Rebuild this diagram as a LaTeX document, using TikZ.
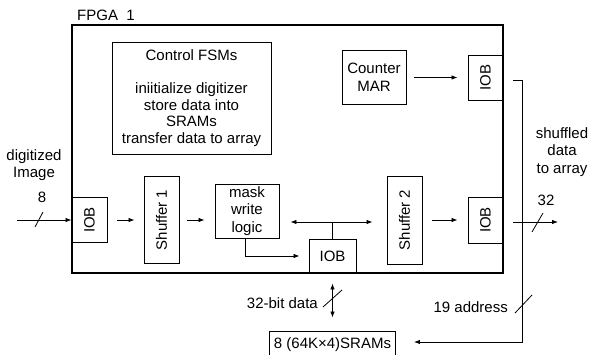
\documentclass[tikz,border=0pt]{standalone}
\usepackage{fontspec}
\setmainfont{Liberation Sans}
\usetikzlibrary{arrows.meta,calc}
\begin{document}
\begin{tikzpicture}[x=1pt,y=-1pt,
  every node/.style={font=\fontsize{15}{17.5}\selectfont, inner sep=0pt, align=center},
  box/.style={draw, line width=0.9pt},
  arr/.style={line width=0.8pt, -{Latex[length=6pt,width=4.5pt]}},
  arrb/.style={line width=0.8pt, {Latex[length=6pt,width=4.5pt]}-{Latex[length=6pt,width=4.5pt]}},
  ln/.style={line width=0.8pt},
  slash/.style={line width=0.8pt}]
\useasboundingbox (0,0) rectangle (591,355);

% FPGA frame
\node[draw, line width=1.3pt, minimum width=431, minimum height=248] (fpga) at (287.5,149) {};
\node[anchor=base west] (fpgalbl) at (77,20.5) {FPGA\ \ 1};

% blocks
\node[box, minimum width=159, minimum height=112, font=\fontsize{15}{16.5}\selectfont] (ctrl) at (191.5,98)
  {Control FSMs\\[16.5pt]iniitialize digitizer\\store data into\\SRAMs\\transfer data to array};
\node[box, minimum width=64, minimum height=54] (cnt) at (374,77.5) {Counter\\MAR};
\node[box, minimum width=35, minimum height=45] (iobA) at (485.5,77.5) {};
\node[rotate=90] (iobAt) at (iobA) {IOB};

\node[box, minimum width=35, minimum height=45] (iobB) at (89.5,220) {};
\node[rotate=90] (iobBt) at (iobB) {IOB};
\node[box, minimum width=35, minimum height=87] (shuf1) at (161.5,220) {};
\node[rotate=90] (shuf1t) at (shuf1) {Shuffer 1};
\node[box, minimum width=64, minimum height=54] (mask) at (247,211) {mask\\write\\logic};
\node[box, minimum width=47, minimum height=34] (iobC) at (332.5,256) {IOB};
\node[box, minimum width=35, minimum height=88] (shuf2) at (404.5,220) {};
\node[rotate=90] (shuf2t) at (shuf2) {Shuffer 2};
\node[box, minimum width=35, minimum height=46] (iobD) at (485.5,220) {};
\node[rotate=90] (iobDt) at (iobD) {IOB};

\node[box, minimum width=126, minimum height=28] (sram) at (332.5,345) {8 (64K×4)SRAMs};

% outside labels
\node (dig) at (34,165) {digitized\\Image};
\node (eight) at (42,197) {8};
\node (shuf) at (562,152) {shuffled\\data\\to array};
\node (n32) at (546,200) {32};
\node[anchor=east] (addr) at (508,307) {19 address};
\node[anchor=east] (bits) at (318,303) {32-bit data};

% connectors
\coordinate (in) at (17,220);
\draw[arr] (in) -- (iobB.west);
\draw[slash] (35,227) -- (43,212);

\draw[arr] ($(iobB.east)+(10,0)$) -- ($(shuf1.west)+(-9,0)$);
\draw[arr] ($(shuf1.east)+(8,0)$) -- ($(mask.west |- shuf1.east)+(-10,0)$);

\coordinate (bus) at (332.5,222);
\draw[arrb] ($(mask.east |- bus)+(11,0)$) -- ($(shuf2.west |- bus)+(-14,0)$);
\draw[ln] (bus) -- (iobC.north);
\draw[arr] ($(mask.south)+(-2,0)$) |- ($(iobC.west)+(-9,0)$);

\draw[arr] ($(shuf2.east)+(10,0)$) -- ($(iobD.west)+(-10,0)$);
\draw[arr] ($(cnt.east)+(8,0)$) -- ($(iobA.west)+(-10,0)$);

\coordinate (out) at (558,222);
\draw[arr] ($(iobD.east)+(10,2)$) -- (out);
\draw[slash] (532,232) -- (543,213);

\coordinate (addrTop) at (522,80);
\coordinate (addrBot) at (522,342);
\draw[arr] ($(iobA.east)+(10,2.5)$) -- (addrTop) -- (addrBot) -- ($(sram.east |- addrBot)+(18,0)$);
\draw[slash] (515,313) -- (532,295);

\draw[arrb] ($(iobC.south)+(0,10)$) -- ($(sram.north)+(0,-13)$);
\draw[slash] (323,307) -- (342,290);
\end{tikzpicture}
\end{document}
